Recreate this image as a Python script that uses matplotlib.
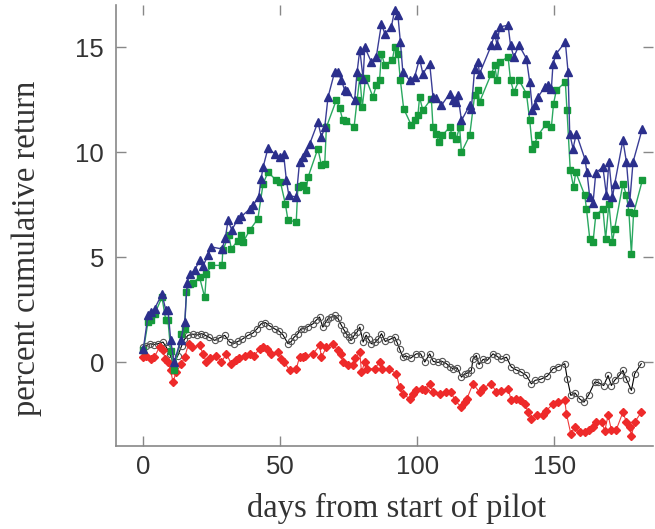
import matplotlib
matplotlib.use("Agg")
import matplotlib.pyplot as plt
import numpy as np

# Series (day, percent cumulative return)
blue_days = [0, 1.7, 2.9, 4.1, 6.8, 8.2, 9, 10, 11.2, 13.6, 15.1, 16, 16.9, 18.7, 20.5, 21.8,
             23.6, 24.8, 28.7, 29.9, 30.9, 32.3, 34.5, 35.8, 38.8, 40, 42.1, 43, 43.7, 45.5,
             47.9, 49.7, 51.2, 52.2, 53.1, 55.8, 57, 58.2, 59.5, 60.7, 63.7, 65, 66.2, 67.4,
             69.8, 71, 72.3, 73.5, 74.5, 77.1, 78, 79, 80.2, 80.8, 83.2, 85, 86.9, 88.1, 90.5,
             91.7, 92.9, 93.8, 94.7, 97.2, 99, 100.8, 102, 104.5, 105.7, 106.9, 108.8, 111.8,
             113, 114.2, 114.8, 116.1, 119.1, 119.7, 120.9, 122.1, 122.7, 127, 128.2, 129.1,
             130, 133.1, 134, 135.2, 137.1, 139.8, 141, 142, 142.8, 144, 146.5, 147.7, 148.9,
             149.5, 150.7, 154, 155, 155.6, 156.8, 158, 161.1, 161.9, 162.9, 164.1, 165.1,
             167.7, 169, 169.9, 171.2, 172, 175, 176.3, 177.5, 178.7, 182.1]
blue_vals = [0.65, 2.24, 2.4, 2.55, 3.27, 2.48, 2.5, 1.05, 0.0, 1.05, 1.92, 3.8, 4.2, 4.38, 4.86, 4.6,
             5.1, 5.5, 5.4, 5.9, 6.76, 6.3, 6.84, 6.95, 7.3, 7.48, 7.87, 8.75, 9.3, 10.2,
             9.94, 9.78, 9.9, 8.67, 7.95, 7.87, 9.54, 9.78, 10.0, 10.4, 11.44, 10.73, 11.2, 12.63,
             13.82, 13.82, 13.43, 12.95, 12.9, 12.48, 13.82, 14.89, 13.5, 15.0, 14.3, 14.54, 16.13, 15.65, 15.97,
             16.76, 16.52, 15.25, 13.82, 13.43, 13.59, 14.46, 13.75, 14.22, 12.63, 12.6, 12.24, 12.8,
             12.48, 12.4, 12.71, 11.52, 12.24, 12.08, 13.98, 14.3, 13.75, 15.1, 15.65, 15.1,
             15.97, 16.05, 15.1, 14.54, 15.1, 14.46, 13.35, 12.0, 12.24, 12.63, 13.11, 13.19, 13.03,
             14.22, 14.7, 15.25, 13.82, 10.89, 10.18, 10.89, 9.7, 9.06, 7.87, 7.59, 9.02,
             9.3, 7.95, 9.54, 7.87, 8.5, 10.57, 9.54, 7.63, 9.54, 11.13]

green_days = [0, 1.7, 2.9, 4.1, 6.8, 8.2, 9, 10, 11.2, 13.9, 15.1, 15.7, 16.9, 18.2, 20.5, 22.4,
              23, 24.8, 28.7, 29, 31.2, 32.1, 34.5, 35.8, 36.5, 38.8, 41.8, 43.7, 45.5, 48.5,
              50, 51.8, 52.8, 55.8, 56.4, 57.5, 58.2, 59.4, 60.1, 63.7, 65, 66.2, 66.8, 70.4,
              71.6, 72.8, 74, 76.9, 78, 79, 79.9, 81.1, 83.8, 85, 86.2, 86.9, 88.1, 90.9, 91.7,
              92.9, 93.8, 95, 97.8, 99, 100.2, 100.8, 102, 105.1, 105.7, 106.9, 107.9, 109.1,
              111.8, 112.7, 114.2, 115.4, 116.1, 119.1, 120.9, 122.1, 122.7, 127, 128.2, 129.1,
              130, 133.1, 134, 135.2, 137.1, 139.8, 141, 142, 142.8, 144, 147.1, 148.9, 149.7,
              150.7, 154, 154.6, 155.8, 157, 157.8, 161.1, 161.7, 162.9, 164.1, 165.1, 167.7,
              168.7, 169.9, 171.2, 172, 175, 176.3, 177.2, 178.1, 178.9, 182.1]
green_vals = [0.57, 1.92, 2.0, 2.3, 3.1, 2.0, 2.0, 0.54, -0.38, 1.37, 1.6, 3.35, 3.75, 3.8, 4.06, 3.1,
              4.2, 4.62, 4.62, 5.33, 6.05, 5.41, 5.8, 6.05, 5.75, 6.29, 6.84, 8.5, 9.06, 8.67,
              8.6, 7.56, 6.76, 6.7, 8.35, 8.4, 8.43, 8.2, 8.82, 10.18, 9.38, 9.46, 11.2, 12.48,
              12.13, 11.52, 11.5, 11.2, 12.48, 13.59, 12.16, 13.56, 12.63, 13.19, 13.43, 14.7, 14.14, 14.41, 15.01,
              14.7, 13.43, 12.08, 11.29, 11.52, 11.76, 12.63, 12.0, 12.56, 11.2, 10.89, 10.49, 10.81,
              11.2, 10.81, 10.65, 11.2, 10.01, 10.81, 12.71, 12.95, 12.4, 13.75, 14.14, 13.43,
              14.3, 14.54, 13.43, 12.87, 13.43, 12.8, 11.52, 10.18, 10.41, 10.81, 11.37, 11.2, 12.32,
              12.95, 13.35, 12.0, 9.14, 8.35, 9.06, 7.95, 7.32, 5.89, 5.73, 7.0, 7.32,
              5.89, 7.56, 5.73, 6.37, 8.5, 7.95, 7.16, 5.18, 7.1, 8.67]

red_days = [0, 1.1, 2.9, 4, 5.9, 7.1, 8, 9, 10, 10.8, 12, 13.9, 15.1, 16.5, 17.7, 20.5, 21.8, 23,
            24.5, 26.6, 28.5, 30.3, 32.1, 33.9, 35, 37, 38.8, 40.5, 42.4, 43.7, 45, 46.7, 49.1,
            50.4, 51.5, 53.4, 55.8, 57, 58.2, 59, 61.9, 64.3, 65, 66.8, 69.2, 71, 72, 72.8, 74.7,
            76.5, 77.3, 79, 79.6, 80.8, 81.6, 84.4, 86.2, 87, 89.5, 92.3, 93.5, 94.7, 97.2, 98.5,
            99.6, 101.6, 102.8, 104.5, 105.7, 108.1, 110.5, 112.4, 113.6, 116.1, 117.3, 118,
            120.3, 122.7, 124, 127, 128.8, 130.5, 133.1, 134.3, 136, 137.5, 139.2, 140.4, 141.6,
            143.5, 146, 147.1, 149.5, 151.5, 153.8, 154.4, 156, 157.4, 159.2, 161.1, 162.8, 164,
            165.3, 167.2, 168.4, 169.6, 170.8, 172.6, 175, 176.3, 177.5, 178.1, 179.3, 181.7]
red_vals = [0.25, 0.33, 0.17, 0.25, 0.73, 0.57, 0.17, 0.0, -0.38, -0.94, -0.46, -0.06, 0.25, 0.89, 0.73, 0.81, 0.41, 0.02,
            0.2, 0.33, 0.02, 0.41, -0.06, 0.1, 0.2, 0.33, 0.41, 0.33, 0.65, 0.73, 0.65, 0.41, 0.49,
            0.17, 0.0, -0.38, -0.3, 0.25, 0.25, 0.3, 0.41, 0.81, 0.25, 0.73, 0.89, 0.57, 0.4, 0.02, -0.14,
            -0.1, 0.2, 0.49, -0.46, 0.02, -0.3, -0.3, 0.02, -0.3, -0.3, -0.54, -1.17, -1.49, -1.73, -1.5,
            -1.33, -1.25, -1.3, -1.02, -1.4, -1.49, -1.41, -1.41, -1.8, -2.13, -1.89, -1.75,
            -1.02, -1.41, -1.2, -1.02, -1.41, -1.35, -1.25, -1.81, -1.75, -1.81, -1.97, -2.37, -2.68,
            -2.52, -2.52, -2.29, -1.97, -1.9, -1.81, -2.45, -3.4, -3.08, -3.32, -3.32, -3.2, -3.08,
            -2.84, -2.84, -3.25, -2.52, -3.2, -3.2, -2.37, -2.84, -3.08, -3.48, -2.84, -2.37]

black_days = [0, 1, 2.5, 4, 5.5, 7.2, 8.5, 9.6, 11, 12.5, 14, 15, 16.3, 18, 19.5, 21.2, 22.5, 24,
              26, 27.5, 29.7, 31.5, 33, 34.5, 36, 38.2, 40, 41.5, 43, 44.5, 46, 47.9, 49.5, 51,
              52.8, 54, 55, 56.4, 57.5, 58.8, 60, 61.9, 63, 64.3, 65.5, 66.5, 67.4, 68.5, 69.8,
              71, 72.3, 73.2, 74.1, 75, 75.9, 77, 78, 79, 80.2, 81.3, 82.2, 83.2, 84.5, 85.7,
              86.9, 88.3, 90, 91.7, 92.6, 93.5, 94.7, 96, 97.5, 99.6, 101.2, 102.7, 104.5, 105.8,
              107.5, 109, 110.6, 111.8, 113, 114.5, 116.1, 117.3, 118.5, 119.7, 120.3, 121.5,
              122.5, 124, 125.5, 127.6, 129, 130.5, 132.5, 134.3, 136, 137.8, 139.8, 141.6, 143,
              145, 147.4, 149.5, 151.5, 153.8, 154.7, 156, 157.5, 159.2, 160.8, 162.5, 164.7, 166,
              168, 169.6, 170.8, 172, 173.8, 175, 176.3, 178.1, 179.3, 181.7]
black_vals = [0.73, 0.8, 0.89, 0.85, 0.9, 0.97, 0.7, 0.41, 0.0, 0.3, 0.8, 1.1, 1.29, 1.35, 1.3, 1.37, 1.3, 1.2,
              1.05, 1.15, 1.29, 0.97, 0.9, 1.0, 1.1, 1.29, 1.4, 1.6, 1.84, 1.9, 1.75, 1.6, 1.5, 1.3,
              0.89, 1.0, 1.2, 1.37, 1.6, 1.6, 1.7, 1.84, 2.0, 2.16, 1.68, 1.9, 2.08, 2.15, 2.24,
              2.1, 1.76, 1.55, 1.37, 1.2, 1.05, 1.3, 1.45, 1.68, 0.97, 1.3, 1.1, 0.89, 0.95, 1.1,
              1.37, 1.0, 1.1, 1.21, 0.95, 0.65, 0.25, 0.3, 0.2, 0.41, 0.41, 0.02, 0.41, 0.05,
              0.0, 0.05, -0.06, -0.2, -0.3, -0.25, -0.7, -0.54, -0.5, -0.38, 0.17, 0.33,
              -0.1, 0.15, 0.1, 0.41, 0.3, 0.15, 0.25, -0.22, -0.35, -0.45, -0.62, -1.02, -0.85,
              -0.8, -0.65, -0.3, -0.2, -0.06, -0.78, -1.57, -1.45, -1.73, -1.89, -1.55, -0.94, -0.95,
              -1.1, -0.62, -1.1, -0.85, -0.6, -0.38, -0.8, -1.33, -0.54, -0.06]

x_ticks = [0, 50, 100, 150]
y_ticks = [0, 5, 10, 15]


def main():
    fig = plt.figure(figsize=(6.55, 5.29), dpi=100)
    ax = fig.add_axes([0.177, 0.156, 0.82, 0.834])

    ax.plot(black_days, black_vals, color="black", lw=0.8, marker="o", ms=4.5,
            mfc="none", mec="#555555", mew=0.8, zorder=2)
    ax.plot(red_days, red_vals, color="#f03a3a", lw=0.8, marker="D", ms=4.5,
            mfc="#ee2a2a", mec="#ee2a2a", zorder=3)
    ax.plot(green_days, green_vals, color="#2aa860", lw=1.0, marker="s", ms=4.5,
            mfc="#169a3c", mec="#169a3c", zorder=4)
    ax.plot(blue_days, blue_vals, color="#3a3d96", lw=1.0, marker="^", ms=5.5,
            mfc="#2b2f8c", mec="#2b2f8c", zorder=5)

    ax.set_xlim(-10, 186)
    ax.set_ylim(-4, 17)
    ax.set_xticks(x_ticks)
    ax.set_yticks(y_ticks)

    for side in ["top", "right"]:
        ax.spines[side].set_visible(False)
    for side in ["left", "bottom"]:
        ax.spines[side].set_color("#888888")
        ax.spines[side].set_linewidth(1.2)

    ax.tick_params(direction="in", length=7, width=1.0, color="#888888",
                   top=True, right=True, labelsize=18.5)
    ax.tick_params(axis="y", pad=8.5)
    ax.tick_params(axis="x", pad=6)
    for lab in ax.get_xticklabels() + ax.get_yticklabels():
        lab.set_family("Liberation Sans")
        lab.set_color("#333333")

    ax.set_xlabel("days from start of pilot", family="Liberation Serif", fontsize=23.5,
                  color="#333333")
    ax.set_ylabel("percent cumulative return", family="Liberation Serif", fontsize=23.5,
                  color="#333333")
    ax.xaxis.set_label_coords(0.523, -0.105)
    ax.yaxis.set_label_coords(-0.138, 0.448)

    fig.savefig("out.png", dpi=100)


if __name__ == "__main__":
    main()
